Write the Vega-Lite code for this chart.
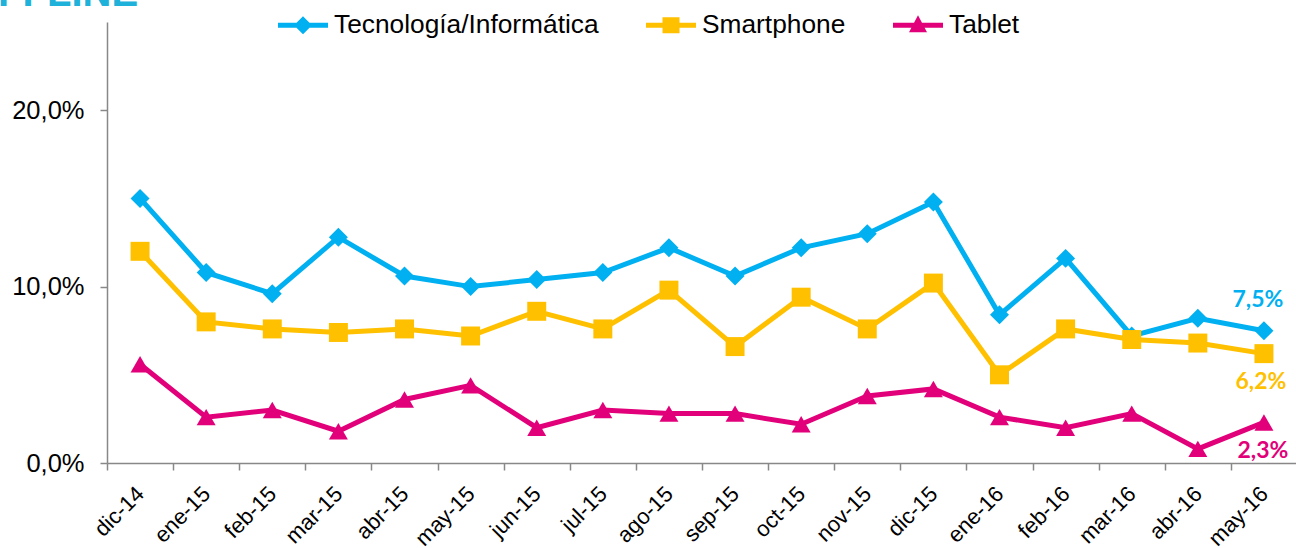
{
  "$schema": "https://vega.github.io/schema/vega-lite/v6.json",
  "autosize": "none",
  "width": 1190,
  "height": 441,
  "padding": {"left": 107, "top": 22, "right": 0, "bottom": 85},
  "background": "white",
  "title": {
    "text": "OFFLINE",
    "anchor": "start",
    "frame": "group",
    "font": "Liberation Sans",
    "fontSize": 40,
    "fontWeight": "bold",
    "color": "#1EB1DA",
    "baseline": "alphabetic",
    "offset": -46,
    "dx": -140
  },
  "config": {
    "locale": {"number": {"decimal": ",", "thousands": ".", "grouping": [3], "currency": ["", " €"]}},
    "view": {"stroke": null},
    "axis": {"grid": false, "domainColor": "#888888", "tickColor": "#888888", "domainWidth": 1.5, "tickWidth": 1.5, "labelFont": "Liberation Sans", "labelColor": "#000000", "title": null}
  },
  "data": {
    "values": [
      {"mes": "dic-14", "serie": "Tecnología/Informática", "valor": 0.150},
      {"mes": "ene-15", "serie": "Tecnología/Informática", "valor": 0.108},
      {"mes": "feb-15", "serie": "Tecnología/Informática", "valor": 0.096},
      {"mes": "mar-15", "serie": "Tecnología/Informática", "valor": 0.128},
      {"mes": "abr-15", "serie": "Tecnología/Informática", "valor": 0.106},
      {"mes": "may-15", "serie": "Tecnología/Informática", "valor": 0.100},
      {"mes": "jun-15", "serie": "Tecnología/Informática", "valor": 0.104},
      {"mes": "jul-15", "serie": "Tecnología/Informática", "valor": 0.108},
      {"mes": "ago-15", "serie": "Tecnología/Informática", "valor": 0.122},
      {"mes": "sep-15", "serie": "Tecnología/Informática", "valor": 0.106},
      {"mes": "oct-15", "serie": "Tecnología/Informática", "valor": 0.122},
      {"mes": "nov-15", "serie": "Tecnología/Informática", "valor": 0.130},
      {"mes": "dic-15", "serie": "Tecnología/Informática", "valor": 0.148},
      {"mes": "ene-16", "serie": "Tecnología/Informática", "valor": 0.084},
      {"mes": "feb-16", "serie": "Tecnología/Informática", "valor": 0.116},
      {"mes": "mar-16", "serie": "Tecnología/Informática", "valor": 0.072},
      {"mes": "abr-16", "serie": "Tecnología/Informática", "valor": 0.082},
      {"mes": "may-16", "serie": "Tecnología/Informática", "valor": 0.075},
      {"mes": "dic-14", "serie": "Smartphone", "valor": 0.120},
      {"mes": "ene-15", "serie": "Smartphone", "valor": 0.080},
      {"mes": "feb-15", "serie": "Smartphone", "valor": 0.076},
      {"mes": "mar-15", "serie": "Smartphone", "valor": 0.074},
      {"mes": "abr-15", "serie": "Smartphone", "valor": 0.076},
      {"mes": "may-15", "serie": "Smartphone", "valor": 0.072},
      {"mes": "jun-15", "serie": "Smartphone", "valor": 0.086},
      {"mes": "jul-15", "serie": "Smartphone", "valor": 0.076},
      {"mes": "ago-15", "serie": "Smartphone", "valor": 0.098},
      {"mes": "sep-15", "serie": "Smartphone", "valor": 0.066},
      {"mes": "oct-15", "serie": "Smartphone", "valor": 0.094},
      {"mes": "nov-15", "serie": "Smartphone", "valor": 0.076},
      {"mes": "dic-15", "serie": "Smartphone", "valor": 0.102},
      {"mes": "ene-16", "serie": "Smartphone", "valor": 0.050},
      {"mes": "feb-16", "serie": "Smartphone", "valor": 0.076},
      {"mes": "mar-16", "serie": "Smartphone", "valor": 0.070},
      {"mes": "abr-16", "serie": "Smartphone", "valor": 0.068},
      {"mes": "may-16", "serie": "Smartphone", "valor": 0.062},
      {"mes": "dic-14", "serie": "Tablet", "valor": 0.056},
      {"mes": "ene-15", "serie": "Tablet", "valor": 0.026},
      {"mes": "feb-15", "serie": "Tablet", "valor": 0.030},
      {"mes": "mar-15", "serie": "Tablet", "valor": 0.018},
      {"mes": "abr-15", "serie": "Tablet", "valor": 0.036},
      {"mes": "may-15", "serie": "Tablet", "valor": 0.044},
      {"mes": "jun-15", "serie": "Tablet", "valor": 0.020},
      {"mes": "jul-15", "serie": "Tablet", "valor": 0.030},
      {"mes": "ago-15", "serie": "Tablet", "valor": 0.028},
      {"mes": "sep-15", "serie": "Tablet", "valor": 0.028},
      {"mes": "oct-15", "serie": "Tablet", "valor": 0.022},
      {"mes": "nov-15", "serie": "Tablet", "valor": 0.038},
      {"mes": "dic-15", "serie": "Tablet", "valor": 0.042},
      {"mes": "ene-16", "serie": "Tablet", "valor": 0.026},
      {"mes": "feb-16", "serie": "Tablet", "valor": 0.020},
      {"mes": "mar-16", "serie": "Tablet", "valor": 0.028},
      {"mes": "abr-16", "serie": "Tablet", "valor": 0.008},
      {"mes": "may-16", "serie": "Tablet", "valor": 0.023}
    ]
  },
  "encoding": {
    "x": {
      "field": "mes", "type": "nominal", "sort": null,
      "scale": {"type": "band", "paddingInner": 0, "paddingOuter": 0},
      "axis": {"labelAngle": -45, "labelAlign": "right", "labelBaseline": "middle", "labelFontSize": 22, "tickBand": "extent", "tickSize": 7, "labelPadding": 20}
    },
    "y": {
      "field": "valor", "type": "quantitative",
      "scale": {"domain": [0, 0.25], "nice": false},
      "axis": {"values": [0, 0.1, 0.2], "format": ".1%", "labelFontSize": 25.5, "tickSize": 7, "labelPadding": 16}
    },
    "color": {
      "field": "serie", "type": "nominal",
      "scale": {"domain": ["Tecnología/Informática", "Smartphone", "Tablet"], "range": ["#00B0F0", "#FFC000", "#E2007A"]},
      "legend": null
    }
  },
  "resolve": {"scale": {"color": "independent", "shape": "independent"}, "legend": {"color": "independent", "shape": "independent"}},
  "layer": [
    {
      "mark": {"type": "line", "strokeWidth": 5}
    },
    {
      "mark": {"type": "point", "filled": true, "opacity": 1, "size": 360},
      "encoding": {
        "shape": {
          "field": "serie", "type": "nominal",
          "scale": {"domain": ["Tecnología/Informática", "Smartphone", "Tablet"], "range": ["diamond", "square", "triangle-up"]},
          "legend": null
        }
      }
    },
    {
      "transform": [{"filter": "datum.valor < 0"}],
      "mark": {"type": "point", "filled": true, "opacity": 1},
      "encoding": {
        "color": {
          "field": "serie", "type": "nominal",
          "scale": {"domain": ["Tecnología/Informática", "Smartphone", "Tablet"], "range": ["#00B0F0", "#FFC000", "#E2007A"]},
          "legend": {
            "orient": "none", "legendX": 171, "legendY": -22, "direction": "horizontal",
            "title": null, "symbolSize": 2500, "labelFont": "Liberation Sans", "labelFontSize": 26.3,
            "labelColor": "#000000", "labelOffset": 6, "columnPadding": 47, "symbolStrokeWidth": 0,
            "symbolOpacity": 1, "labelLimit": 500
          }
        },
        "shape": {
          "field": "serie", "type": "nominal",
          "scale": {"domain": ["Tecnología/Informática", "Smartphone", "Tablet"], "range": ["M-1,-0.1H1V0.1H-1Z M0,-0.36L0.36,0L0,0.36L-0.36,0Z", "M-1,-0.1H1V0.1H-1Z M-0.34,-0.32H0.34V0.32H-0.34Z", "M-1,-0.1H1V0.1H-1Z M0,-0.4L0.36,0.28H-0.36Z"]},
          "legend": {
            "orient": "none", "legendX": 171, "legendY": -22, "direction": "horizontal",
            "title": null, "symbolSize": 2500, "labelFont": "Liberation Sans", "labelFontSize": 26.3,
            "labelColor": "#000000", "labelOffset": 6, "columnPadding": 47, "symbolStrokeWidth": 0,
            "symbolOpacity": 1, "labelLimit": 500
          }
        }
      }
    },
    {
      "transform": [{"filter": "datum.mes === 'may-16' && datum.serie === 'Tecnología/Informática'"}],
      "mark": {"type": "text", "font": "Lato", "fontWeight": "bold", "fontSize": 23, "dx": -6, "dy": -31},
      "encoding": {"text": {"field": "valor", "type": "quantitative", "format": ".1%"}}
    },
    {
      "transform": [{"filter": "datum.mes === 'may-16' && datum.serie === 'Smartphone'"}],
      "mark": {"type": "text", "font": "Lato", "fontWeight": "bold", "fontSize": 23, "dx": -3, "dy": 28},
      "encoding": {"text": {"field": "valor", "type": "quantitative", "format": ".1%"}}
    },
    {
      "transform": [{"filter": "datum.mes === 'may-16' && datum.serie === 'Tablet'"}],
      "mark": {"type": "text", "font": "Lato", "fontWeight": "bold", "fontSize": 23, "dx": -1, "dy": 29},
      "encoding": {"text": {"field": "valor", "type": "quantitative", "format": ".1%"}}
    }
  ]
}
